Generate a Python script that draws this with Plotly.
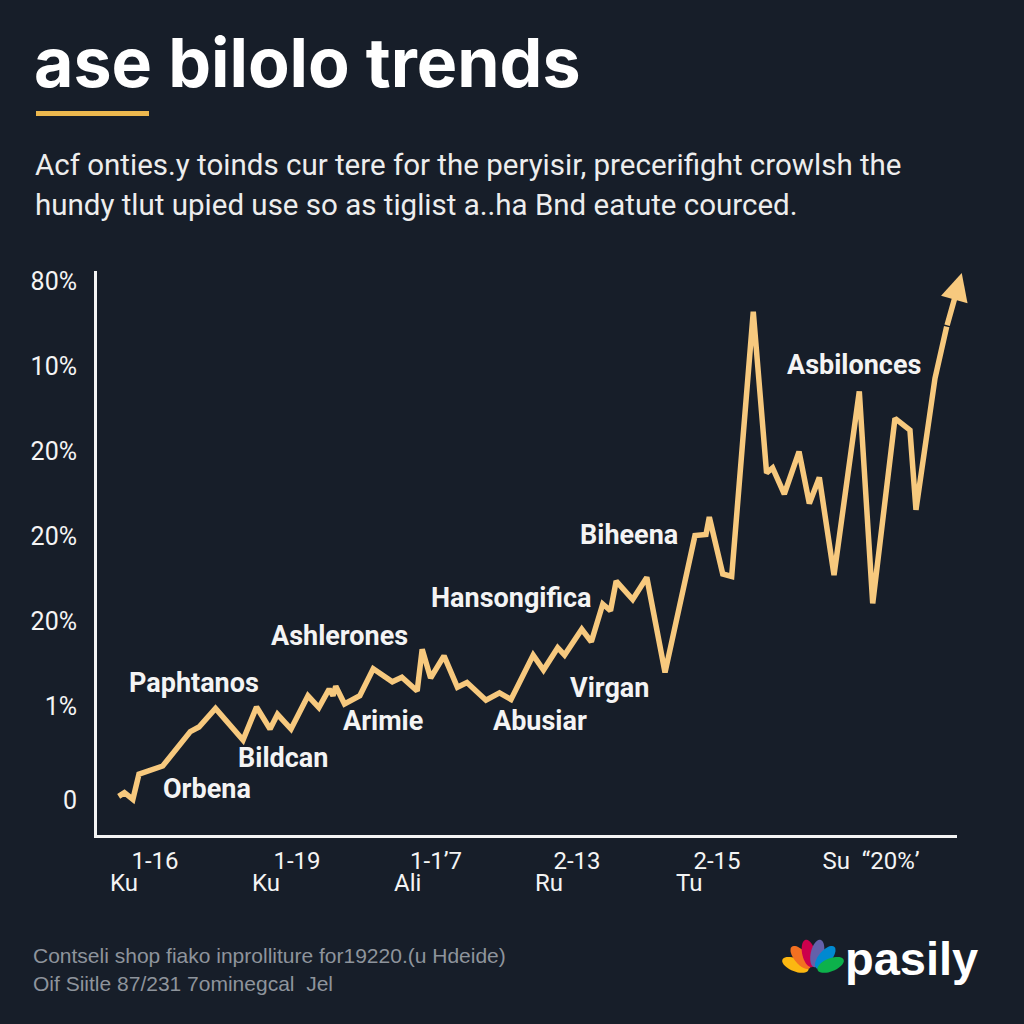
import numpy as np
import plotly.graph_objects as go

# ---------------- data ----------------
days = [2.52, 3.19, 4.17, 4.88, 7.64, 10.85, 11.86, 13.78, 16.98, 18.55, 20.12, 20.99,
        22.56, 24.53, 25.80, 27.0, 27.44, 27.76, 28.78, 30.56, 32.12, 34.34, 35.45, 37.23,
        37.81, 38.79, 40.35, 41.91, 43.02, 45.23, 46.80, 48.14, 50.72, 51.92, 53.57, 54.37,
        56.37, 57.48, 58.81, 59.71, 60.37, 62.29, 63.93, 66.05, 69.53, 70.81, 71.20, 72.76,
        73.80, 76.31, 77.86, 78.56, 79.92, 81.63, 82.83, 83.99, 85.70, 88.64, 90.20, 92.79,
        94.53, 95.23, 97.44, 98.80]
values = [0.42, 0.86, 0.07, 3.04, 4.0, 8.04, 8.59, 10.78, 7.04, 10.94, 8.35, 10.08,
          8.35, 12.26, 10.86, 13.06, 12.26, 13.39, 11.29, 12.26, 15.44, 13.91, 14.44, 12.82,
          17.74, 14.35, 16.95, 13.26, 13.82, 11.74, 12.61, 11.82, 17.05, 15.29, 17.92, 17.05,
          20.09, 18.61, 23.06, 22.27, 25.75, 23.58, 26.19, 15.0, 31.11, 31.24, 33.28, 26.60,
          26.31, 57.44, 38.48, 39.07, 36.0, 40.99, 34.89, 37.94, 26.45, 48.08, 23.14, 44.91,
          43.51, 34.15, 49.6, 55.69]
arrow_tip_day = 100.55
arrow_tip_value = 62.0

label_names = ["Paphtanos", "Orbena", "Bildcan", "Ashlerones", "Arimie", "Abusiar",
               "Hansongifica", "Virgan", "Biheena", "Asbilonces"]
label_days = [11.28, 12.79, 21.63, 28.14, 33.26, 51.51, 48.14, 59.65, 61.86, 88.02]
label_values = [13.76, 1.29, 4.94, 19.29, 9.29, 9.29, 23.76, 13.18, 31.18, 51.18]

y_tickvals = [0, 11, 21, 31, 41, 51, 61]
y_ticktext = ["0", "1%", "20%", "20%", "20%", "10%", "80%"]
x_tickvals = [6.74, 23.26, 39.42, 55.81, 72.09, 90.0]
x_ticktext = ["1-16", "1-19", "1-1\u20197", "2-13", "2-15", "Su  \u201c20%\u2019"]
x_sub_vals = [3.14, 19.65, 36.05, 52.56, 68.84]
x_sub_text = ["Ku", "Ku", "Ali", "Ru", "Tu"]

title = "ase bilolo trends"
subtitle_lines = ["Acf onties.y toinds cur tere for the peryisir, precerifight crowlsh the",
                  "hundy tlut upied use so as tiglist a..ha Bnd eatute courced."]
footer_lines = ["Contseli shop fiako inprolliture for19220.(u Hdeide)",
                "Oif Siitle 87/231 7ominegcal  Jel"]
brand = "pasily"

# ---------------- styling ----------------
BG = "#171E29"
LINE = "#F7C97E"
WHITE = "#F4F4F4"
L, R, T, B = 97, 957, 271, 835


def fx(px):
    return (px - L) / (R - L)


def fy(py):
    return (B - py) / (B - T)


fig = go.Figure()
fig.add_trace(go.Scatter(x=days, y=values, mode="lines",
                         line=dict(color=LINE, width=5.5), hoverinfo="skip"))

ann = []
ann.append(dict(x=arrow_tip_day, y=arrow_tip_value, xref="x", yref="y",
                ax=days[-1], ay=values[-1], axref="x", ayref="y",
                showarrow=True, arrowhead=2, arrowsize=1.0, arrowwidth=5.5,
                arrowcolor=LINE, text=""))

for n, d, v in zip(label_names, label_days, label_values):
    ann.append(dict(x=d, y=v, xref="x", yref="y", text="<b>%s</b>" % n, showarrow=False,
                    font=dict(family="Roboto", size=27, color=WHITE),
                    xanchor="center", yanchor="middle"))

for d, t in zip(x_sub_vals, x_sub_text):
    ann.append(dict(x=d, y=fy(883), xref="x", yref="paper", text=t, showarrow=False,
                    font=dict(family="Roboto", size=24, color=WHITE),
                    xanchor="center", yanchor="middle"))

ann.append(dict(x=fx(32), y=fy(62), xref="paper", yref="paper", text="<b>%s</b>" % title,
                showarrow=False, font=dict(family="Inter", size=68, color="#FFFFFF"),
                xanchor="left", yanchor="middle"))
for i, s in enumerate(subtitle_lines):
    ann.append(dict(x=fx(33), y=fy(165 + 40 * i), xref="paper", yref="paper", text=s,
                    showarrow=False, font=dict(family="Roboto", size=29.5, color="#EDEDED"),
                    xanchor="left", yanchor="middle"))
for i, s in enumerate(footer_lines):
    ann.append(dict(x=fx(31), y=fy(955 + 28 * i), xref="paper", yref="paper", text=s,
                    showarrow=False, font=dict(family="Liberation Sans", size=21, color="#8E949C"),
                    xanchor="left", yanchor="middle"))
ann.append(dict(x=fx(843), y=fy(958), xref="paper", yref="paper", text="<b>%s</b>" % brand,
                showarrow=False, font=dict(family="Liberation Sans", size=47, color="#FFFFFF"),
                xanchor="left", yanchor="middle"))

shapes = []
shapes.append(dict(type="rect", xref="paper", yref="paper", x0=fx(36), x1=fx(149),
                   y0=fy(111), y1=fy(116), fillcolor="#EDB84E", line=dict(width=0)))

# peacock logo
base_x, base_y = 813, 972
feather_cols = ["#FCB711", "#F37021", "#CC004C", "#6460AA", "#0089D0", "#0DB14B"]
feather_ang = [158, 130, 103, 77, 50, 22]
t = np.linspace(0, 2 * np.pi, 40)
for c, a in zip(feather_cols, feather_ang):
    th = np.radians(a)
    cx = base_x + 19 * np.cos(th)
    cy = base_y - 19 * np.sin(th)
    ex = 14 * np.cos(t)
    ey = 6.5 * np.sin(t)
    px = cx + ex * np.cos(th) - ey * np.sin(th)
    py = cy - (ex * np.sin(th) + ey * np.cos(th))
    path = "M " + " L ".join("%.5f,%.5f" % (fx(a1), fy(b1)) for a1, b1 in zip(px, py)) + " Z"
    shapes.append(dict(type="path", xref="paper", yref="paper", path=path,
                       fillcolor=c, line=dict(width=0)))

fig.update_layout(
    width=1024, height=1024, autosize=False,
    margin=dict(l=L, r=1024 - R, t=T, b=1024 - B, pad=0),
    paper_bgcolor=BG, plot_bgcolor=BG, showlegend=False,
    annotations=ann, shapes=shapes,
    xaxis=dict(range=[0, 100], showline=True, linecolor=WHITE, linewidth=3,
               showgrid=False, zeroline=False, ticks="", tickvals=x_tickvals,
               ticktext=x_ticktext, tickfont=dict(family="Roboto", size=24, color=WHITE),
               ticklabelstandoff=2, fixedrange=True),
    yaxis=dict(range=[-4.12, 62.24], showline=True, linecolor=WHITE, linewidth=3,
               showgrid=False, zeroline=False, ticks="", tickvals=y_tickvals,
               ticktext=y_ticktext, tickfont=dict(family="Roboto", size=25, color=WHITE),
               ticklabelstandoff=12, fixedrange=True),
)

fig.write_html("out.html", config={"displayModeBar": False})
